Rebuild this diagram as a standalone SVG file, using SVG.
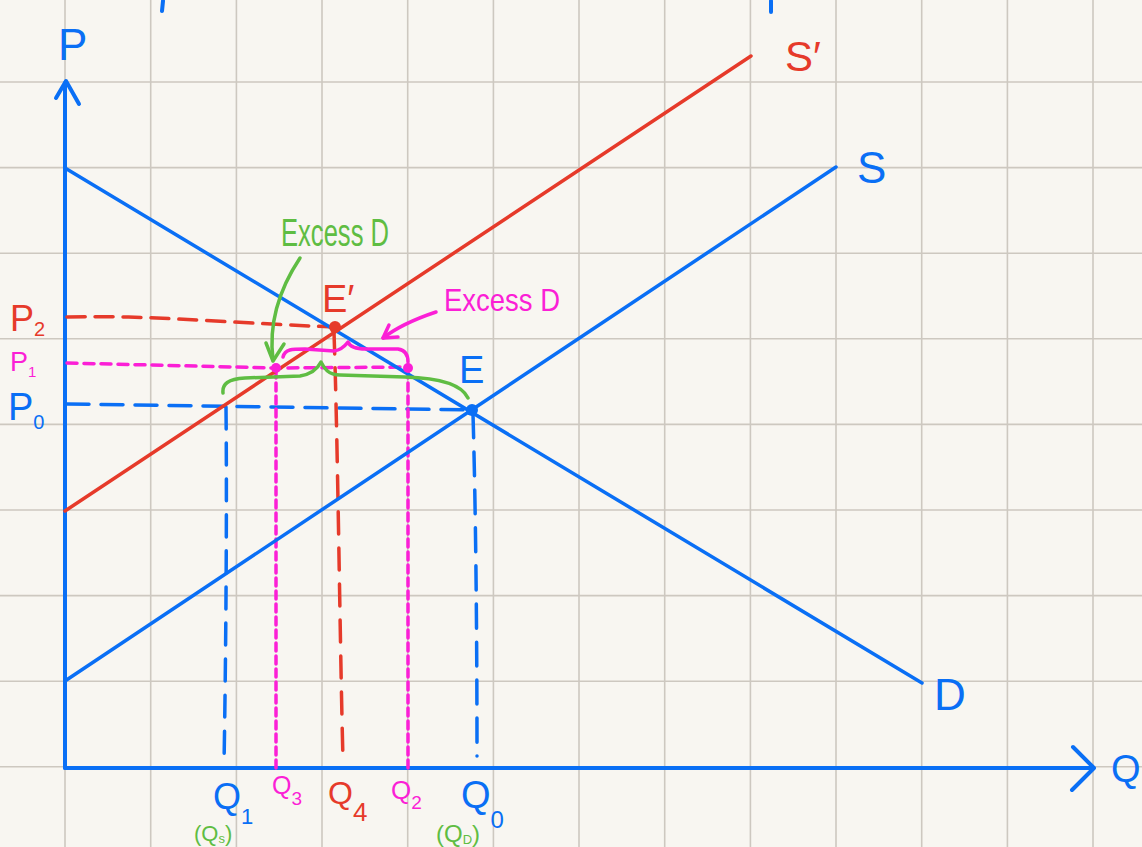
<svg xmlns="http://www.w3.org/2000/svg" width="1142" height="847" viewBox="0 0 1142 847">
<defs>
<style>
.grid{stroke:#cdc8c0;stroke-width:1.6;fill:none}
.ln{fill:none;stroke-linecap:round;stroke-linejoin:round}
.blue{stroke:#0a6ff5}
.red{stroke:#e63a2a}
.mag{stroke:#fb1fd6}
.grn{stroke:#5fbd43}
.t{font-family:"Liberation Sans","DejaVu Sans",sans-serif}
.tb{fill:#0a6ff5}
.tr{fill:#e63a2a}
.tm{fill:#fb1fd6}
.tg{fill:#5fbd43}
</style>
</defs>
<rect width="1142" height="847" fill="#f8f6f1"/>
<g id="grid" class="grid">
<path d="M65,0V847M150.7,0V847M236.4,0V847M322,0V847M407.7,0V847M493.4,0V847M579,0V847M664.7,0V847M750.4,0V847M836,0V847M921.7,0V847M1007.4,0V847M1093,0V847"/>
<path d="M0,82H1142M0,167.6H1142M0,253.2H1142M0,338.8H1142M0,424.4H1142M0,510H1142M0,595.6H1142M0,681.2H1142M0,766.8H1142"/>
</g>
<g id="axes" class="ln blue" stroke-width="4">
<path d="M65,768V83"/>
<path d="M56,98L66,81L79,104"/>
<path d="M65,768H1093"/>
<path d="M1073,747L1094,768L1072,790"/>
<path d="M163,1L162,11M771,1L771,12"/>
</g>
<g id="connectors">
<g id="guides" class="ln" stroke-width="3.5">
<path class="red" d="M67,317C150,315 210,322 335,327" stroke-dasharray="18 10"/>
<path class="mag" d="M67,363L276,368L408,367" stroke-dasharray="10 7"/>
<path class="blue" d="M67,404L472,410" stroke-dasharray="22 12"/>
<path class="blue" d="M226,407C227,500 226,650 224,765" stroke-dasharray="22 14"/>
<path class="mag" d="M276,370V768" stroke-dasharray="8 5"/>
<path class="mag" d="M408,370V768" stroke-dasharray="8 5"/>
<path class="red" d="M334,332C338,450 340,650 343,760" stroke-dasharray="22 14"/>
<path class="blue" d="M473,414C476,520 477,650 477,756" stroke-dasharray="24 14"/>
</g>
<g id="curves" class="ln" stroke-width="3.5">
<path class="blue" d="M65,168L922,683"/>
<path class="blue" d="M65,681L836,167"/>
<path class="red" d="M65,511L751,56"/>
</g>
<g id="braces" class="ln" stroke-width="3.5">
<path class="mag" d="M283,357C285,349 292,349 305,349L334,351C341,350 345,346 348,342C350,347 355,349 366,349L398,349C405,350 408,355 408,362"/>
<path class="grn" d="M223,393C222,384 228,379 245,378L300,376C312,374 318,368 321,362C324,368 328,375 340,375L405,377C440,378 462,385 468,398"/>
</g>
<g id="arrows" class="ln" stroke-width="3.5">
<path class="grn" d="M300,258C282,285 268,320 273,360"/>
<path class="grn" d="M266,343L273,361L284,344"/>
<path class="mag" d="M436,312C412,320 396,328 383,338"/>
<path class="mag" d="M389,325L383,338L398,337"/>
</g>
</g>
<g id="points">
<circle id="pt-Eprime" cx="335" cy="327" r="6" fill="#e63a2a"/>
<circle id="pt-E" cx="472" cy="410" r="6" fill="#0a6ff5"/>
<circle id="pt-Q3" cx="276" cy="368" r="5" fill="#fb1fd6"/>
<circle id="pt-Q2" cx="408" cy="368" r="5" fill="#fb1fd6"/>
</g>
<g id="labels" class="t">
<text class="tb" x="58" y="60" font-size="44">P</text>
<text class="tb" x="1111" y="782" font-size="38">Q</text>
<text class="tr" x="785" y="71" font-size="42">S′</text>
<text class="tb" x="857" y="183" font-size="44">S</text>
<text class="tb" x="934" y="710" font-size="44">D</text>
<text class="tb" x="459" y="383" font-size="38">E</text>
<text class="tr" x="322" y="312" font-size="38">E′</text>
<text class="tr" x="10" y="331" font-size="36">P<tspan font-size="20" dy="5">2</tspan></text>
<text class="tm" x="10" y="371" font-size="27">P<tspan font-size="15" dy="6">1</tspan></text>
<text class="tb" x="8" y="420" font-size="38">P<tspan font-size="20" dy="9">0</tspan></text>
<text class="tb" x="213" y="809" font-size="36">Q<tspan font-size="22" dy="15">1</tspan></text>
<text class="tg" x="194" y="841" font-size="22">(Q<tspan font-size="13" dy="2">s</tspan><tspan dy="-2">)</tspan></text>
<text class="tm" x="272" y="794" font-size="25">Q<tspan font-size="19" dy="11">3</tspan></text>
<text class="tr" x="328" y="804" font-size="32">Q<tspan font-size="26" dy="17">4</tspan></text>
<text class="tm" x="391" y="799" font-size="26">Q<tspan font-size="19" dy="10">2</tspan></text>
<text class="tb" x="461" y="808" font-size="38">Q<tspan font-size="24" dy="20">0</tspan></text>
<text class="tg" x="436" y="842" font-size="24">(Q<tspan font-size="13" dy="2">D</tspan><tspan dy="-2">)</tspan></text>
<text class="tg" x="281" y="246" font-size="38" textLength="108" lengthAdjust="spacingAndGlyphs">Excess D</text>
<text class="tm" x="444" y="311" font-size="32" textLength="116" lengthAdjust="spacingAndGlyphs">Excess D</text>
</g>
</svg>
